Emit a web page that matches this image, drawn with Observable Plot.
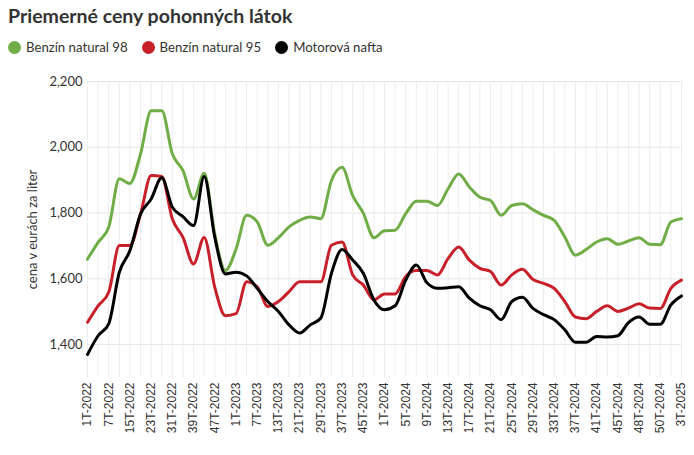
<!DOCTYPE html>
<html>
<head>
<meta charset="utf-8">
<script src="https://cdn.jsdelivr.net/npm/d3@7"></script>
<script src="https://cdn.jsdelivr.net/npm/@observablehq/plot@0.6"></script>
<style>
  html, body { margin: 0; padding: 0; background: #fff; }
  body { width: 694px; height: 455px; overflow: hidden; font-family: Lato, "Noto Sans", sans-serif; color: #333; }
  #title { height: 32px; line-height: 32px; padding-left: 8px; font-size: 19.5px; font-weight: 700; color: #333; }
  #legend { height: 30px; display: flex; align-items: center; padding-left: 8px; font-size: 13.2px; color: #333; }
  .item { display: flex; align-items: center; margin-right: 14px; }
  .dot { width: 13px; height: 13px; border-radius: 50%; margin-right: 5px; }
  svg { display: block; }
</style>
</head>
<body>
<div id="title">Priemerné ceny pohonných látok</div>
<div id="legend"></div>
<div id="chart"></div>
<script>
const categories = [
  "1T-2022","4T-2022","7T-2022","11T-2022","15T-2022","19T-2022","23T-2022","27T-2022","31T-2022","35T-2022",
  "39T-2022","43T-2022","47T-2022","51T-2022","1T-2023","4T-2023","7T-2023","10T-2023","13T-2023","17T-2023",
  "21T-2023","25T-2023","29T-2023","33T-2023","37T-2023","41T-2023","45T-2023","49T-2023","1T-2024","3T-2024",
  "5T-2024","7T-2024","9T-2024","11T-2024","13T-2024","15T-2024","17T-2024","19T-2024","21T-2024","23T-2024",
  "25T-2024","27T-2024","29T-2024","31T-2024","33T-2024","35T-2024","37T-2024","39T-2024","41T-2024","43T-2024",
  "45T-2024","47T-2024","48T-2024","49T-2024","50T-2024","1T-2025","3T-2025"
];
const tickLabels = categories.filter((d, i) => i % 2 === 0);
const seriesNames = ["Benzín natural 98", "Benzín natural 95", "Motorová nafta"];
const seriesColors = ["#70ad47", "#c8202a", "#000000"];
const benzin98 = [
  1660,1711,1757,1904,1890,1980,2111,2111,1980,1929,
  1843,1921,1735,1625,1690,1793,1773,1702,1725,1758,
  1778,1788,1783,1899,1939,1853,1800,1725,1746,1748,
  1798,1836,1836,1823,1874,1919,1879,1848,1838,1793,
  1823,1828,1810,1793,1778,1727,1672,1689,1712,1722,
  1705,1715,1725,1705,1704,1773,1783
];
const benzin95 = [
  1468,1518,1559,1701,1701,1797,1914,1911,1782,1726,
  1645,1726,1574,1488,1494,1591,1576,1516,1531,1561,
  1591,1591,1591,1702,1712,1612,1581,1536,1554,1554,
  1607,1625,1625,1612,1662,1697,1657,1632,1622,1581,
  1612,1629,1598,1586,1571,1531,1484,1479,1501,1518,
  1501,1511,1524,1511,1510,1571,1596
];
const nafta = [
  1370,1427,1463,1620,1686,1797,1843,1907,1818,1789,
  1762,1911,1726,1615,1620,1609,1571,1531,1501,1460,
  1435,1460,1481,1617,1689,1657,1617,1536,1506,1518,
  1596,1642,1588,1571,1573,1576,1541,1518,1506,1476,
  1531,1544,1510,1491,1476,1445,1407,1407,1425,1423,
  1427,1467,1484,1462,1462,1521,1548
];
const yTicks = [1400, 1600, 1800, 2000, 2200];

const seriesValues = [benzin98, benzin95, nafta];
const data = seriesNames.flatMap((s, k) =>
  categories.map((c, i) => ({cat: c, series: s, value: seriesValues[k][i]}))
);

const legend = document.getElementById("legend");
seriesNames.forEach((s, k) => {
  const it = document.createElement("div");
  it.className = "item";
  it.innerHTML = `<span class="dot" style="background:${seriesColors[k]}"></span><span>${s}</span>`;
  legend.appendChild(it);
});

const chart = Plot.plot({
  width: 694,
  height: 393,
  marginTop: 19,
  marginBottom: 78,
  marginLeft: 87,
  marginRight: 13,
  style: {fontFamily: "Lato, 'Noto Sans', sans-serif", fontSize: "13px", color: "#333", background: "#fff"},
  x: {type: "point", domain: categories, padding: 0},
  y: {domain: [1300, 2200]},
  color: {domain: seriesNames, range: seriesColors},
  marks: [
    Plot.gridY(yTicks, {stroke: "#e6e6e6", strokeOpacity: 1}),
    Plot.gridX(categories, {stroke: "#ededed", strokeOpacity: 1}),
    Plot.axisY(yTicks, {tickFormat: d3.format(","), tickSize: 0, tickPadding: 5, label: "cena v eurách za liter", labelAnchor: "center", labelArrow: "none", labelOffset: 60, fontSize: 13}),
    Plot.axisX(tickLabels, {tickRotate: -90, tickSize: 0, tickPadding: 5, label: null, fontFamily: "'Liberation Sans', Arial, sans-serif", fontSize: 12}),
    Plot.line(data, {x: "cat", y: "value", stroke: "series", strokeWidth: 3, curve: "monotone-x"})
  ]
});
document.getElementById("chart").appendChild(chart);
</script>
</body>
</html>
